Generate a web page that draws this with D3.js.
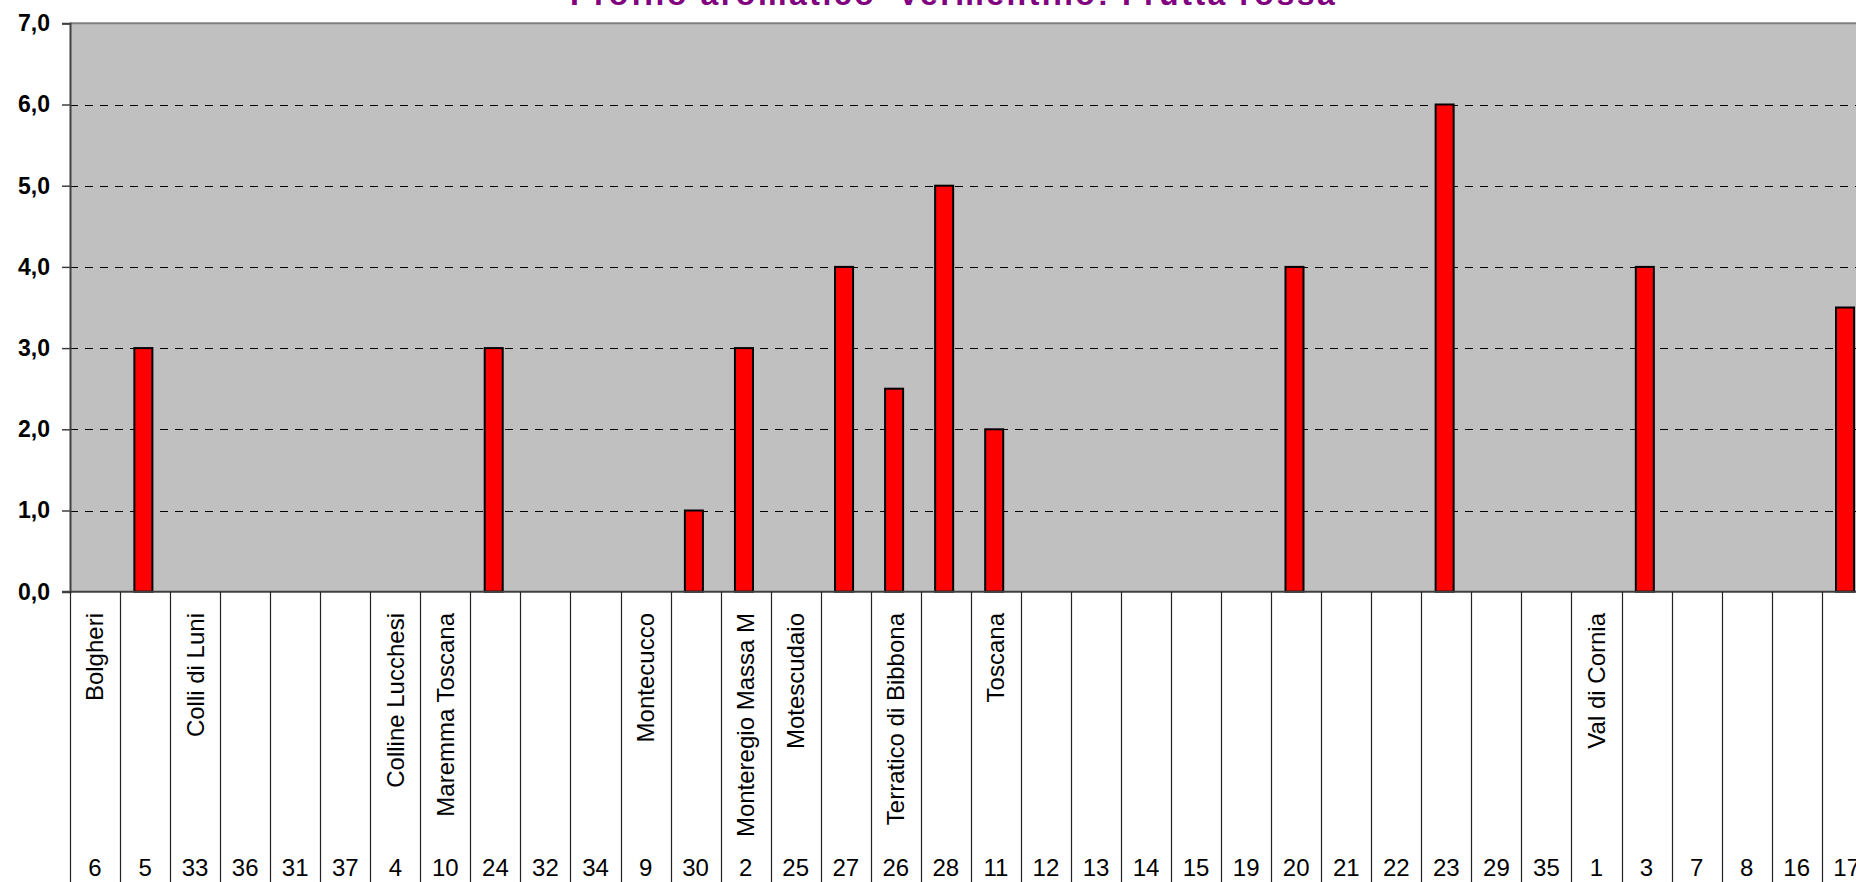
<!DOCTYPE html>
<html>
<head>
<meta charset="utf-8">
<script src="https://cdn.jsdelivr.net/npm/d3@7/dist/d3.min.js"></script>
<style>
  html, body { margin: 0; padding: 0; background: #fff; overflow: hidden; }
  svg { display: block; font-family: "Liberation Sans", Arial, sans-serif; }
</style>
</head>
<body>
<svg id="chart" width="1856" height="882"></svg>
<script>
// Sample codes along the category axis, in display order
const codes = ["6","5","33","36","31","37","4","10","24","32","34","9","30","2","25","27","26","28","11",
               "12","13","14","15","19","20","21","22","23","29","35","1","3","7","8","16","17"];
// Denomination names written above some codes
const names = ["Bolgheri","","Colli di Luni","","","","Colline Lucchesi","Maremma Toscana","","","",
               "Montecucco","","Monteregio Massa M","Motescudaio","","Terratico di Bibbona","","Toscana",
               "","","","","","","","","","","","Val di Cornia","","","","",""];
// "Frutta rossa" intensity score per sample
const scores = [0,3,0,0,0,0,0,0,3,0,0,0,1,3,0,4,2.5,5,2,0,0,0,0,0,4,0,0,6,0,0,0,4,0,0,0,3.5];
// Value axis ticks
const yTicks = [0,1,2,3,4,5,6,7];
const chartTitle = "Profilo aromatico 'Vermentino: Frutta rossa'";

const svg = d3.select("#chart");
const plotL = 70, plotR = 1871.75, plotT = 23.3, plotB = 591.7, H = 882;

const x = d3.scaleBand().domain(d3.range(codes.length)).range([plotL, plotR]).padding(0);
const y = d3.scaleLinear().domain([0, 7]).range([plotB, plotT]);
const step = x.step();

// Title (purple, bold)
svg.append("text")
  .attr("x", 570).attr("y", 5)
  .attr("textLength", 775).attr("lengthAdjust", "spacing")
  .attr("font-size", 32).attr("font-weight", "bold").attr("fill", "#800080")
  .text(chartTitle);

// Plot area
svg.append("rect")
  .attr("x", plotL).attr("y", plotT)
  .attr("width", plotR - plotL).attr("height", plotB - plotT)
  .attr("fill", "#C0C0C0");

// Dashed gridlines
svg.append("g").selectAll("line")
  .data(yTicks.filter(t => t > 0 && t < 7))
  .join("line")
  .attr("x1", plotL).attr("x2", plotR)
  .attr("y1", d => Math.round(y(d)) + 0.5).attr("y2", d => Math.round(y(d)) + 0.5)
  .attr("stroke", "#000").attr("stroke-width", 1).attr("stroke-dasharray", "8,7");

// Top border of plot
svg.append("line")
  .attr("x1", plotL).attr("x2", plotR).attr("y1", y(7)).attr("y2", y(7))
  .attr("stroke", "#808080").attr("stroke-width", 2);

// Bars
svg.append("g").selectAll("rect")
  .data(scores.map((v, i) => ({ v, i })).filter(d => d.v > 0))
  .join("rect")
  .attr("x", d => x(d.i) + step * 0.286)
  .attr("width", step * 0.36)
  .attr("y", d => y(d.v))
  .attr("height", d => y(0) - y(d.v))
  .attr("fill", "#FF0000").attr("stroke", "#000").attr("stroke-width", 2);

// Value axis
const yAxis = d3.axisLeft(y).tickValues(yTicks).tickSize(8).tickPadding(12)
  .tickFormat(d => d3.format(".1f")(d).replace(".", ","));
const gy = svg.append("g").attr("transform", `translate(${plotL},0)`).call(yAxis);
gy.select(".domain").attr("stroke", "#404040").attr("stroke-width", 2);
gy.selectAll(".tick line").attr("stroke", "#404040").attr("stroke-width", 1.5);
gy.selectAll(".tick text")
  .attr("font-size", 23).attr("font-weight", "bold").attr("fill", "#000")
  .attr("font-family", "Liberation Sans, Arial, sans-serif");

// Category axis line
svg.append("line")
  .attr("x1", plotL - 8).attr("x2", plotR).attr("y1", y(0)).attr("y2", y(0))
  .attr("stroke", "#404040").attr("stroke-width", 2);

// Category separators running down to the bottom
const bounds = d3.range(codes.length + 1).map(i => plotL + i * step);
svg.append("g").selectAll("line")
  .data(bounds)
  .join("line")
  .attr("x1", d => Math.round(d) + 0.5).attr("x2", d => Math.round(d) + 0.5)
  .attr("y1", y(0)).attr("y2", H)
  .attr("stroke", "#222").attr("stroke-width", 1.2);

// Rotated denomination names
svg.append("g").selectAll("text")
  .data(names.map((n, i) => ({ n, i })).filter(d => d.n))
  .join("text")
  .attr("transform", d => `translate(${x(d.i) + step / 2},613) rotate(-90)`)
  .attr("dy", "0.35em")
  .attr("text-anchor", "end")
  .attr("font-size", 24).attr("fill", "#000")
  .text(d => d.n);

// Sample codes
svg.append("g").selectAll("text")
  .data(codes)
  .join("text")
  .attr("x", (d, i) => x(i) + step / 2)
  .attr("y", 876)
  .attr("text-anchor", "middle")
  .attr("font-size", 24).attr("fill", "#000")
  .text(d => d);
</script>
</body>
</html>
